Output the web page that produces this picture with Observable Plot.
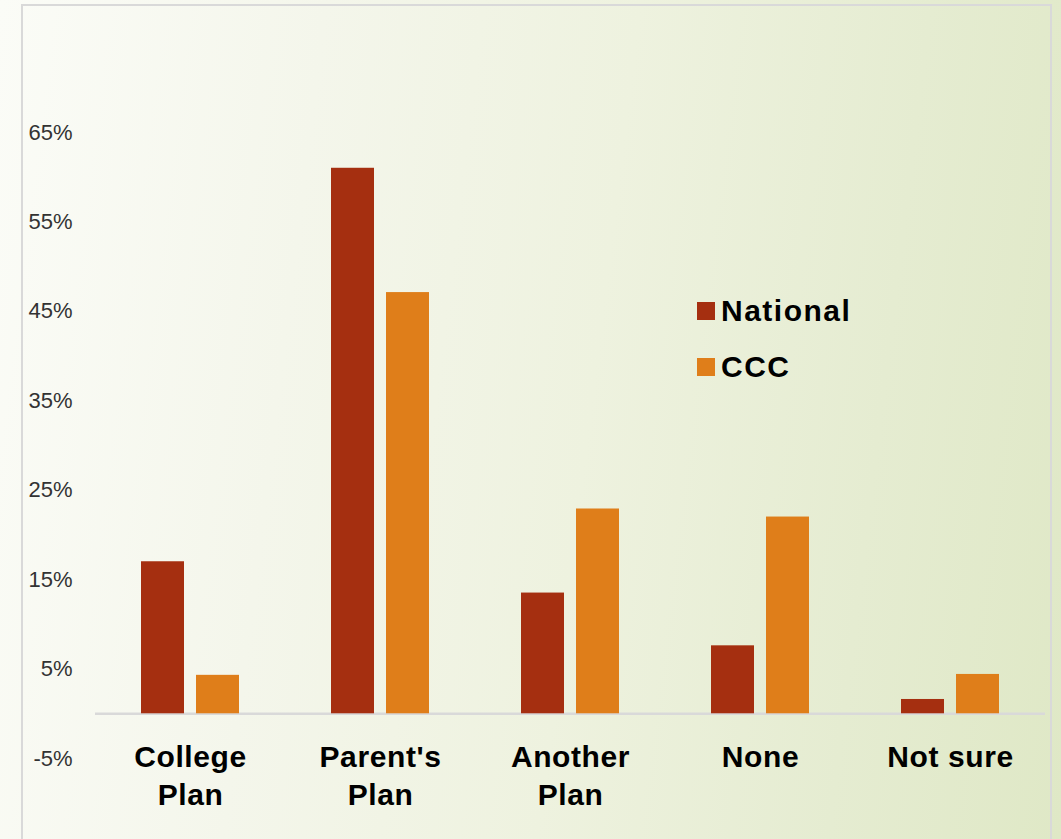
<!DOCTYPE html>
<html>
<head>
<meta charset="utf-8">
<script src="https://cdn.jsdelivr.net/npm/d3@7"></script>
<script src="https://cdn.jsdelivr.net/npm/@observablehq/plot@0.6"></script>
<style>
  html, body { margin: 0; padding: 0; }
  body {
    width: 1061px; height: 839px; overflow: hidden; position: relative;
    background: linear-gradient(97deg, #fbfcf7 0%, #f4f6eb 28%, #eef2df 55%, #e5ecd1 80%, #dfe8c6 100%);
    font-family: "Liberation Sans", Arial, sans-serif;
  }
  #frame {
    position: absolute; left: 21px; top: 4px; width: 1031px; height: 900px;
    border: 2px solid #d9d9d9; box-sizing: border-box;
  }
  #chart { position: absolute; left: 0; top: 0; }
  #chart svg { background: transparent; overflow: visible; }
  .legend { position: absolute; left: 697px; top: 283px; }
  .legend .item { display: flex; align-items: center; height: 56px; }
  .legend .sw { width: 18px; height: 18px; margin-right: 6px; }
  .legend .lab { font-weight: bold; font-size: 30px; letter-spacing: 1.5px; color: #000; }
</style>
</head>
<body>
<div id="frame"></div>
<div id="chart"></div>
<div class="legend" id="legend"></div>
<script>
const categories = ["College\nPlan", "Parent's\nPlan", "Another\nPlan", "None", "Not sure"];
const seriesNames = ["National", "CCC"];
const national = [17.0, 61.0, 13.5, 7.6, 1.6];
const ccc = [4.3, 47.1, 22.9, 22.0, 4.4];
const yTicks = [-5, 5, 15, 25, 35, 45, 55, 65];
const colors = ["#a52f10", "#df7e1a"];

const data = [];
categories.forEach((c, i) => {
  data.push({cat: c, series: seriesNames[0], value: national[i]});
  data.push({cat: c, series: seriesNames[1], value: ccc[i]});
});

const chart = Plot.plot({
  width: 1061,
  height: 839,
  marginLeft: 95,
  marginRight: 16,
  marginTop: 132,
  marginBottom: 81,
  style: {background: "transparent", fontFamily: "Liberation Sans, Arial, sans-serif"},
  fx: {domain: categories, padding: 0},
  x: {domain: seriesNames, paddingInner: 0.218, paddingOuter: 0.836, axis: null},
  y: {domain: [-5, 65]},
  color: {domain: seriesNames, range: colors},
  marks: [
    Plot.axisY({ticks: yTicks, tickSize: 0, tickPadding: 23, tickFormat: d => d + "%",
      fontSize: 22, fill: "#333", label: null}),
    Plot.axisFx({anchor: "bottom", tickSize: 0, tickPadding: 0, dy: -19, fontSize: 30,
      fontWeight: "bold", fill: "#000", lineHeight: 1.27, label: null}),
    Plot.ruleY([0], {stroke: "#d9d9d9", strokeWidth: 2.5}),
    Plot.barY(data, {fx: "cat", x: "series", y: "value", fill: "series"})
  ]
});
chart.querySelectorAll("[aria-label='fx-axis tick label'] text").forEach(t => t.style.letterSpacing = "0.6px");
document.getElementById("chart").appendChild(chart);

const leg = document.getElementById("legend");
seriesNames.forEach((s, i) => {
  const it = document.createElement("div");
  it.className = "item";
  it.innerHTML = `<div class="sw" style="background:${colors[i]}"></div><div class="lab">${s}</div>`;
  leg.appendChild(it);
});
</script>
</body>
</html>
